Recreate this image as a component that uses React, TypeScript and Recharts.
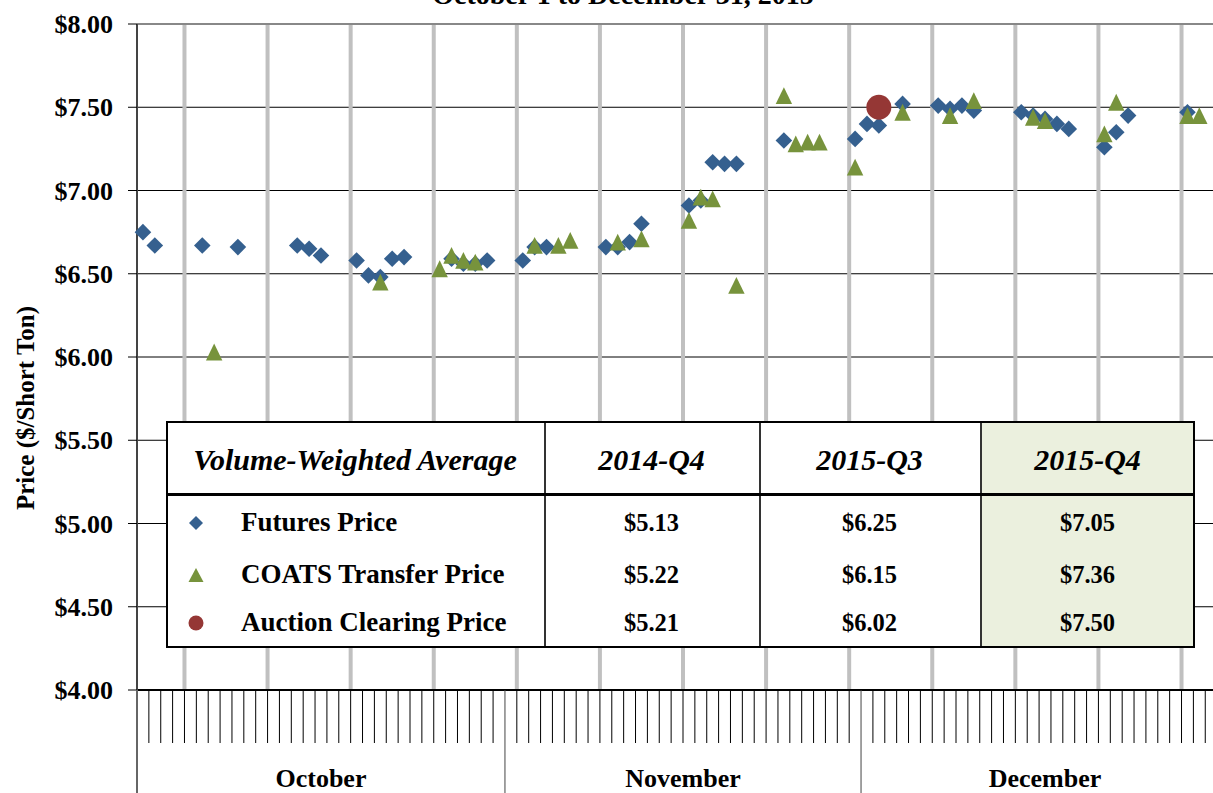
import { CartesianGrid, ReferenceLine, Scatter, ScatterChart, XAxis, YAxis } from 'recharts'

const FONT = '"Liberation Serif", "Times New Roman", serif'

// day number counted from Oct 1 (1 = Oct 1, 32 = Nov 1, 62 = Dec 1)
const futuresDays = [1, 2, 6, 9, 14, 15, 16, 19, 20, 21, 22, 23, 27, 28, 29, 30, 33, 34, 35, 40, 41, 42, 43, 47, 48, 49, 50, 51, 55, 61, 62, 63, 65, 68, 69, 70, 71, 75, 76, 77, 78, 79, 82, 83, 84, 89]
const futuresPrices = [6.75, 6.67, 6.67, 6.66, 6.67, 6.65, 6.61, 6.58, 6.49, 6.48, 6.59, 6.6, 6.59, 6.56, 6.56, 6.58, 6.58, 6.66, 6.66, 6.66, 6.66, 6.69, 6.8, 6.91, 6.94, 7.17, 7.16, 7.16, 7.3, 7.31, 7.4, 7.39, 7.52, 7.51, 7.49, 7.51, 7.48, 7.47, 7.45, 7.43, 7.4, 7.37, 7.26, 7.35, 7.45, 7.47]

const coatsDays = [7, 21, 26, 27, 28, 29, 34, 36, 37, 41, 43, 47, 48, 49, 51, 55, 56, 57, 58, 61, 65, 69, 71, 76, 77, 82, 83, 89, 90]
const coatsPrices = [6.03, 6.45, 6.53, 6.61, 6.58, 6.57, 6.67, 6.67, 6.7, 6.69, 6.71, 6.82, 6.96, 6.95, 6.43, 7.57, 7.28, 7.29, 7.29, 7.14, 7.47, 7.45, 7.54, 7.44, 7.42, 7.34, 7.53, 7.45, 7.45]

const auctionDays = [63]
const auctionPrices = [7.5]

const monthNames = ['October', 'November', 'December']
const monthLengths = [31, 30, 31]
const weekLines = [4, 11, 18, 25, 32, 39, 46, 53, 60, 67, 74, 81, 88]
const priceTicks = [4, 4.5, 5, 5.5, 6, 6.5, 7, 7.5, 8]

const tableQuarters = ['2014-Q4', '2015-Q3', '2015-Q4']
const tableSeries = ['Futures Price', 'COATS Transfer Price', 'Auction Clearing Price']
const futuresAvg = [5.13, 6.25, 7.05]
const coatsAvg = [5.22, 6.15, 7.36]
const auctionAvg = [5.21, 6.02, 7.5]

const BLUE = '#35608f'
const GREEN = '#77933c'
const RED = '#953735'

const monthStarts = monthLengths.map((_, i) => monthLengths.slice(0, i).reduce((a, b) => a + b, 0))
const monthCenters = monthStarts.map((s, i) => s + monthLengths[i] / 2)
const totalDays = monthLengths.reduce((a, b) => a + b, 0)
const dayTicks = Array.from({ length: totalDays + 1 }, (_, i) => i)
// day boundaries first, month label positions after them
const axisTicks = [...dayTicks, ...monthCenters]

const toPoints = (days: number[], prices: number[]) => days.map((d, i) => ({ day: d - 0.5, price: prices[i] }))
const futuresData = toPoints(futuresDays, futuresPrices)
const coatsData = toPoints(coatsDays, coatsPrices)
const auctionData = toPoints(auctionDays, auctionPrices)

const Diamond = ({ cx, cy }: any) => (
  <path d={`M${cx},${cy - 8.3}L${cx + 8.3},${cy}L${cx},${cy + 8.3}L${cx - 8.3},${cy}Z`} fill={BLUE} />
)
const Triangle = ({ cx, cy }: any) => (
  <path d={`M${cx},${cy - 8.4}L${cx + 8.2},${cy + 8.4}L${cx - 8.2},${cy + 8.4}Z`} fill={GREEN} />
)
const Dot = ({ cx, cy }: any) => <circle cx={cx} cy={cy} r={12.5} fill={RED} />

function DateTick({ x, y, index }: any) {
  if (index > totalDays) {
    return (
      <text x={x} y={y + 97} textAnchor="middle" fontFamily={FONT} fontSize={26} fontWeight="bold" fill="#000">
        {monthNames[index - totalDays - 1]}
      </text>
    )
  }
  const long = monthStarts.includes(index)
  return <line x1={x} x2={x} y1={y} y2={y + (long ? 103 : 53)} stroke={long ? '#444' : '#000'} strokeWidth={1} />
}

const legendMarks = [
  <path key="d" d="M8,1L15,8L8,15L1,8Z" fill={BLUE} />,
  <path key="t" d="M8,1L15.5,15L0.5,15Z" fill={GREEN} />,
  <circle key="c" cx={8} cy={8} r={7.5} fill={RED} />,
]
const tableRows = [futuresAvg, coatsAvg, auctionAvg]
const colEdges = [0, 378, 593, 814, 1029]
const rowCenters = [102, 154, 202]

function AverageTable() {
  return (
    <div
      style={{
        position: 'absolute', left: 166, top: 421, width: 1029, height: 227, boxSizing: 'border-box',
        border: '2px solid #000', background: '#fff', fontFamily: FONT, fontWeight: 'bold', color: '#000',
      }}
    >
      <div style={{ position: 'absolute', left: colEdges[3] - 2, top: 0, width: colEdges[4] - colEdges[3] - 2, height: 223, background: '#ebf0de' }} />
      {colEdges.slice(1, 4).map((x) => (
        <div key={x} style={{ position: 'absolute', left: x - 2, top: 0, width: 2, height: 223, background: '#333' }} />
      ))}
      <div style={{ position: 'absolute', left: 0, top: 70, width: 1025, height: 3, background: '#000' }} />
      <div style={{ position: 'absolute', left: -2, top: 21, width: colEdges[1], textAlign: 'center', fontSize: 30, fontStyle: 'italic', lineHeight: '32px', whiteSpace: 'nowrap' }}>
        Volume-Weighted Average
      </div>
      {tableQuarters.map((q, i) => (
        <div key={q} style={{ position: 'absolute', left: colEdges[i + 1] - 2, top: 21, width: colEdges[i + 2] - colEdges[i + 1], textAlign: 'center', fontSize: 30, fontStyle: 'italic', lineHeight: '32px' }}>
          {q}
        </div>
      ))}
      {tableSeries.map((s, r) => (
        <div key={s}>
          <svg width={16} height={16} style={{ position: 'absolute', left: 20, top: rowCenters[r] - 10 }}>{legendMarks[r]}</svg>
          <div style={{ position: 'absolute', left: 73, top: rowCenters[r] - 18, fontSize: 27, lineHeight: '30px', whiteSpace: 'nowrap' }}>{s}</div>
          {tableRows[r].map((v, c) => (
            <div key={c} style={{ position: 'absolute', left: colEdges[c + 1] - 2, top: rowCenters[r] - 17, width: colEdges[c + 2] - colEdges[c + 1], textAlign: 'center', fontSize: 24.5, lineHeight: '30px' }}>
              ${v.toFixed(2)}
            </div>
          ))}
        </div>
      ))}
    </div>
  )
}

export default function App() {
  return (
    <div style={{ position: 'fixed', left: 0, top: 0, width: 1213, height: 793, overflow: 'hidden', background: '#fff' }}>
      <ScatterChart width={1230} height={793} margin={{ top: 24, right: 1, bottom: 0, left: 0 }}>
        <CartesianGrid vertical={false} stroke="#000" strokeWidth={1} />
        {weekLines.map((d) => (
          <ReferenceLine key={d} x={d} stroke="#c0c0c0" strokeWidth={4} />
        ))}
        <ReferenceLine y={8} stroke="#888" strokeWidth={2} />
        <XAxis
          dataKey="day"
          type="number"
          domain={[0, totalDays]}
          ticks={axisTicks}
          interval={0}
          tickLine={false}
          tickSize={0}
          tickMargin={0}
          height={103}
          axisLine={{ stroke: '#000', strokeWidth: 2 }}
          tick={<DateTick />}
        />
        <YAxis
          dataKey="price"
          type="number"
          domain={[4, 8]}
          ticks={priceTicks}
          interval={0}
          width={137}
          tickSize={9}
          tickMargin={15}
          tickFormatter={(v: number) => `$${v.toFixed(2)}`}
          axisLine={{ stroke: '#444', strokeWidth: 2 }}
          tickLine={{ stroke: '#000' }}
          tick={{ fill: '#000', fontSize: 26, fontWeight: 'bold', fontFamily: FONT }}
        />
        <Scatter name="Futures Price" data={futuresData} shape={<Diamond />} isAnimationActive={false} />
        <Scatter name="COATS Transfer Price" data={coatsData} shape={<Triangle />} isAnimationActive={false} />
        <Scatter name="Auction Clearing Price" data={auctionData} shape={<Dot />} isAnimationActive={false} />
      </ScatterChart>
      <svg width={1213} height={793} style={{ position: 'absolute', left: 0, top: 0, pointerEvents: 'none' }}>
        <text x={623} y={4} textAnchor="middle" fontFamily={FONT} fontSize={28} fontWeight="bold">
          October 1 to December 31, 2015
        </text>
        <line x1={137} x2={137} y1={690} y2={793} stroke="#666" strokeWidth={2} />
        <text x={25} y={408} transform="rotate(-90 25 408)" textAnchor="middle" dominantBaseline="central" fontFamily={FONT} fontSize={25} fontWeight="bold">
          Price ($/Short Ton)
        </text>
      </svg>
      <AverageTable />
    </div>
  )
}
